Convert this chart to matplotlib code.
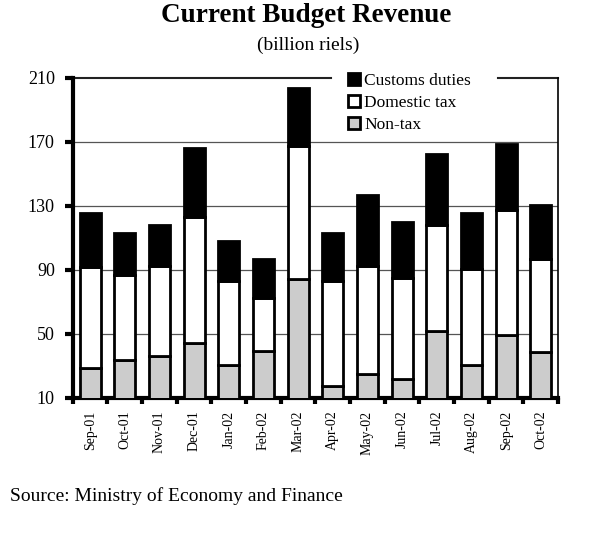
import numpy as np
import matplotlib.pyplot as plt

# data (billion riels)
months = ['Sep-01', 'Oct-01', 'Nov-01', 'Dec-01', 'Jan-02', 'Feb-02', 'Mar-02',
          'Apr-02', 'May-02', 'Jun-02', 'Jul-02', 'Aug-02', 'Sep-02', 'Oct-02']
non_tax = [28.6, 33.8, 36.3, 44.2, 30.6, 39.2, 84.4, 17.5, 25.0, 22.1, 52.1, 30.4, 49.4, 39.0]
domestic_tax = [63.4, 53.1, 56.4, 78.7, 52.7, 33.1, 83.1, 65.8, 67.7, 63.1, 65.9, 60.0, 78.1, 57.9]
customs = [33.4, 26.4, 25.2, 43.1, 24.6, 24.6, 36.3, 29.6, 44.2, 34.6, 44.5, 35.0, 41.2, 33.9]
y_ticks = [10, 50, 90, 130, 170, 210]

plt.rcParams['font.family'] = ['Liberation Serif', 'DejaVu Serif']

fig = plt.figure(figsize=(6.12, 5.4), dpi=100)
ax = fig.add_axes([0.119, 0.263, 0.793, 0.593])

x = np.arange(len(months))
nt = np.array(non_tax)
dt = np.array(domestic_tax)
cu = np.array(customs)

ax.bar(x, nt, width=0.6, color='#cccccc', edgecolor='black', linewidth=2, label='Non-tax', zorder=3)
ax.bar(x, dt, width=0.6, bottom=nt, color='white', edgecolor='black', linewidth=2,
       label='Domestic tax', zorder=3)
ax.bar(x, cu, width=0.6, bottom=nt + dt, color='black', edgecolor='black', linewidth=2,
       label='Customs duties', zorder=3)

ax.set_ylim(y_ticks[0], y_ticks[-1])
ax.set_xlim(-0.5, len(months) - 0.5)
ax.set_yticks(y_ticks)

# gridlines; the top one is broken where the legend sits
for v in y_ticks[1:-1]:
    ax.axhline(v, color='#555555', linewidth=0.9, zorder=1)
ax.axhline(y_ticks[-1], xmin=0, xmax=0.531, color='#222222', linewidth=1.5, zorder=1, clip_on=False)
ax.axhline(y_ticks[-1], xmin=0.876, xmax=1, color='#222222', linewidth=1.5, zorder=1, clip_on=False)

ax.set_xticks(x)
ax.set_xticklabels(months, rotation=90, fontsize=10)
ax.set_xticks(np.arange(-0.5, len(months)), minor=True)
ax.tick_params(axis='x', which='major', length=0, pad=9)
ax.tick_params(axis='x', which='minor', length=4, width=3, direction='out')
ax.tick_params(axis='y', length=6, width=3, labelsize=13, pad=7)

for s in ['left', 'bottom']:
    ax.spines[s].set_linewidth(3)
ax.spines['right'].set_linewidth(1.2)
ax.spines['top'].set_visible(False)

handles, labels = ax.get_legend_handles_labels()
leg = ax.legend(handles[::-1], labels[::-1], loc='upper left', bbox_to_anchor=(0.566, 1.014),
                frameon=False, fontsize=12.5, handlelength=0.7, handleheight=0.7,
                handletextpad=0.25, labelspacing=0.32, borderpad=0, borderaxespad=0)
leg.set_zorder(5)

fig.text(0.501, 0.96, 'Current Budget Revenue', ha='center', va='baseline',
         fontsize=19.5, fontweight='bold')
fig.text(0.503, 0.908, '(billion riels)', ha='center', va='baseline', fontsize=14)
fig.text(0.016, 0.081, 'Source: Ministry of Economy and Finance', ha='left', va='center',
         fontsize=14)

plt.savefig('out.png', dpi=100)
